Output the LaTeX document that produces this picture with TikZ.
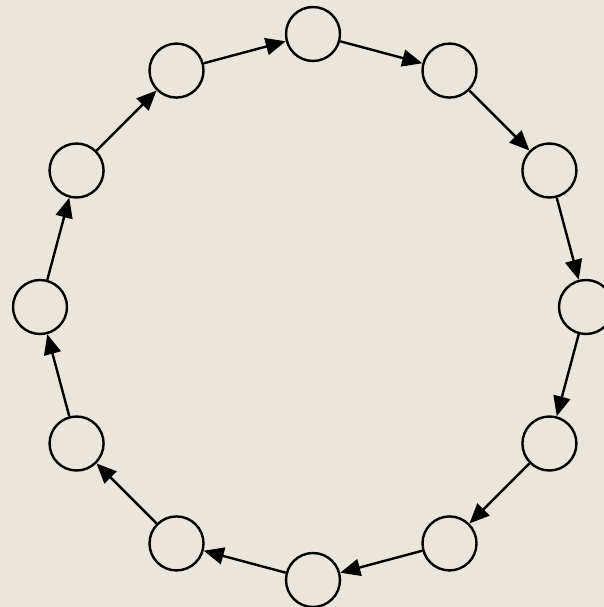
\documentclass[tikz,border=0pt]{standalone}
\usetikzlibrary{arrows.meta}
\definecolor{bg}{HTML}{EAE6DE}
\tikzset{
  ring/.style={circle, draw=black, line width=2.4pt, minimum size=54pt, inner sep=0pt, fill=none},
  link/.style={line width=2.4pt, -{Triangle[length=20pt,width=17pt]}, shorten >=0pt}
}
\begin{document}
\begin{tikzpicture}[x=1pt,y=-1pt]
\fill[bg] (0,0) rectangle (604,607);
\useasboundingbox (0,0) rectangle (604,607);
\foreach \i in {0,...,11} {
  \node[ring] (n\i) at ({313+273*sin(30*\i)},{307-273*cos(30*\i)}) {};
}
\foreach \i [evaluate=\i as \j using {int(mod(\i+1,12))}] in {0,...,11} {
  \draw[link] (n\i) -- (n\j);
}
\end{tikzpicture}
\end{document}
